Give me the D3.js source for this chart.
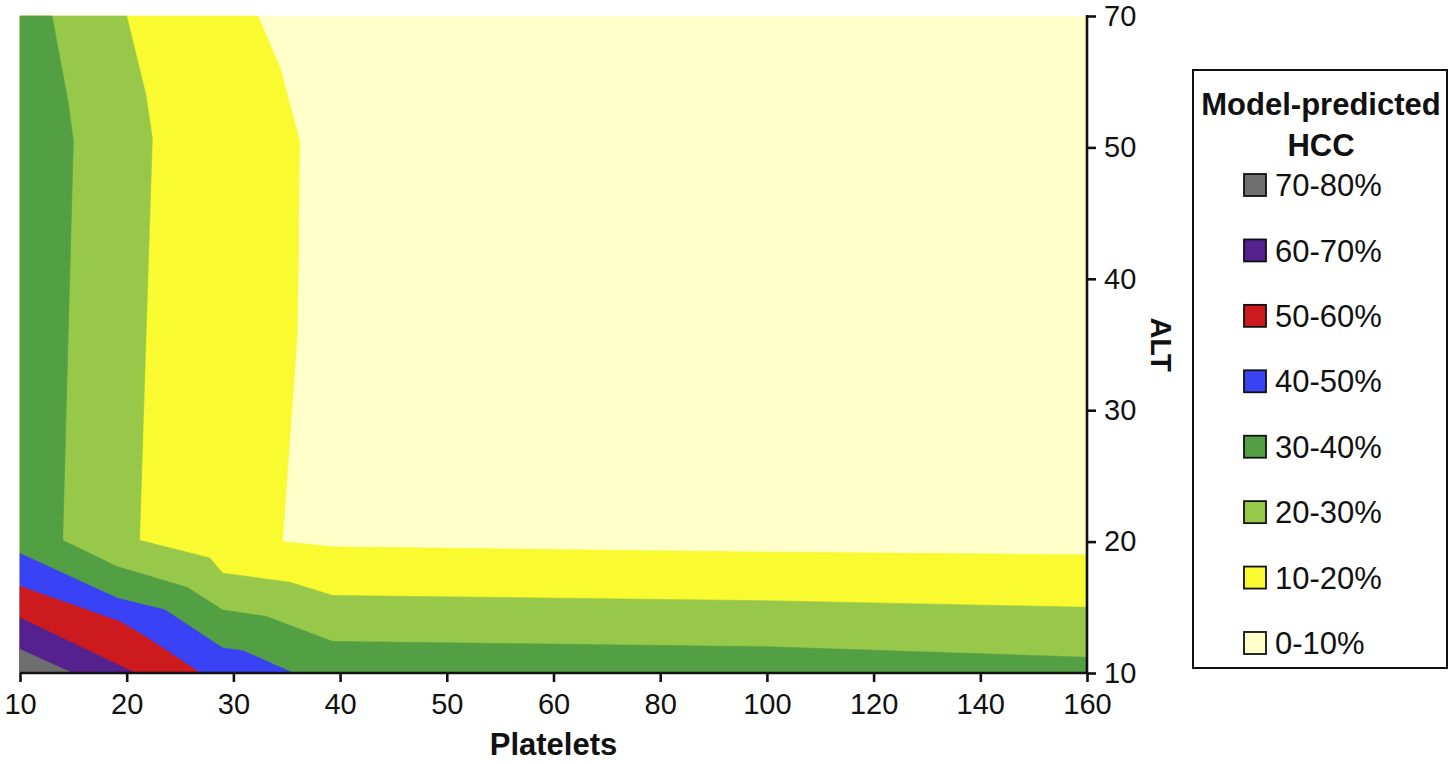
<!DOCTYPE html>
<html>
<head>
<meta charset="utf-8">
<script src="https://cdn.jsdelivr.net/npm/d3@7"></script>
<style>
  html, body { margin: 0; padding: 0; background: #fff; }
  svg { display: block; font-family: "Liberation Sans", Arial, Helvetica, sans-serif; }
</style>
</head>
<body>
<svg id="chart" width="1451" height="764"></svg>
<script>
// Contorno HCC predicho por el modelo: plaquetas (x) vs ALT (y).
// Los ejes son de grilla: cada tick queda a la misma distancia aunque el paso cambie.

const platelets = [10, 20, 30, 40, 50, 60, 80, 100, 120, 140, 160];
const alt = [10, 20, 30, 40, 50, 70];

const bandLabels = ['0-10%', '10-20%', '20-30%', '30-40%', '40-50%', '50-60%', '60-70%', '70-80%'];
const bandColors = ['#FFFFC9', '#F9FA2F', '#98C84A', '#53A044', '#3A42F5', '#CC1A1E', '#55218F', '#6E6E6E'];

// isolíneas [plaquetas, ALT], una por umbral (10%, 20%, ... 70%)
const iso10 = [[32.3, 70], [34.4, 62], [36.2, 51], [36.0, 36], [34.6, 20], [39.3, 19.6], [100, 19.2], [160, 19.0]];
const iso20 = [[20.0, 70], [21.8, 58], [22.4, 51.4], [21.2, 20.1], [27.8, 18.75], [29.0, 17.6], [35.3, 16.9], [39.3, 15.9], [100, 15.5], [160, 15.0]];
const iso30 = [[13.0, 70], [14.5, 57], [15.0, 51], [14.0, 20.1], [19.1, 18.1], [25.7, 16.5], [29.0, 14.8], [33.1, 14.3], [39.3, 12.4], [100, 12.0], [160, 11.2]];
const iso40 = [[10, 19.1], [19.1, 15.7], [23.6, 14.8], [29.0, 11.9], [30.9, 11.7], [35.6, 10]];
const iso50 = [[10, 16.6], [19.4, 13.9], [21.9, 12.7], [26.9, 10]];
const iso60 = [[10, 14.2], [20.8, 10]];
const iso70 = [[10, 11.8], [14.9, 10]];
const isolines = [iso10, iso20, iso30, iso40, iso50, iso60, iso70];

const svg = d3.select('#chart');
const L = 20, R = 1087, T = 16, B = 673;

const x = d3.scaleLinear()
  .domain(platelets)
  .range(platelets.map((_, i) => L + i * (R - L) / (platelets.length - 1)));
const y = d3.scaleLinear()
  .domain(alt)
  .range(alt.map((_, i) => B - i * (B - T) / (alt.length - 1)));

const xMin = platelets[0], xMax = platelets[platelets.length - 1];
const yMin = alt[0], yMax = alt[alt.length - 1];

// región >= umbral: la isolínea cerrada hacia la esquina inferior izquierda
function region(iso) {
  const pts = iso.slice();
  const first = pts[0], last = pts[pts.length - 1];
  if (last[0] === xMax) pts.push([xMax, yMin]);
  pts.push([xMin, yMin]);
  if (first[1] === yMax) pts.push([xMin, yMax]);
  return pts;
}

const line = d3.line().x(d => x(d[0])).y(d => y(d[1]));

const plot = svg.append('g');
plot.append('rect')
  .attr('x', x(xMin)).attr('y', y(yMax))
  .attr('width', x(xMax) - x(xMin)).attr('height', y(yMin) - y(yMax))
  .attr('fill', bandColors[0]);

plot.selectAll('path.band').data(isolines).join('path')
  .attr('class', 'band')
  .attr('d', d => line(region(d)) + 'Z')
  .attr('fill', (d, i) => bandColors[i + 1])
  .attr('stroke', (d, i) => bandColors[i + 1])
  .attr('stroke-width', 0.6)
  .attr('stroke-linejoin', 'round');

// ejes
const gx = svg.append('g').attr('transform', `translate(0,${B})`)
  .call(d3.axisBottom(x).tickValues(platelets).tickFormat(d3.format('d'))
    .tickSize(9).tickSizeOuter(0).tickPadding(11));
const gy = svg.append('g').attr('transform', `translate(${R},0)`)
  .call(d3.axisRight(y).tickValues(alt).tickFormat(d3.format('d'))
    .tickSize(9).tickSizeOuter(0).tickPadding(8));

[gx, gy].forEach(g => {
  g.select('.domain').attr('stroke', '#111').attr('stroke-width', 2.6);
  g.selectAll('.tick line').attr('stroke', '#111').attr('stroke-width', 2.6);
  g.selectAll('.tick text').attr('fill', '#111')
    .style('font-size', '29px').attr('font-family', '"Liberation Sans", Arial, sans-serif');
});
gy.select('.domain').attr('d', `M0,${T - 1}V${B + 1}`);
gx.select('.domain').attr('d', `M${L},0H${R + 1}`);

svg.append('text')
  .attr('x', (L + R) / 2).attr('y', 755)
  .attr('text-anchor', 'middle').attr('font-weight', 700)
  .style('font-size', '31px').attr('fill', '#111')
  .text('Platelets');

svg.append('text')
  .attr('transform', `translate(1151,${(T + B) / 2}) rotate(90)`)
  .attr('text-anchor', 'middle').attr('font-weight', 700)
  .style('font-size', '29px').attr('fill', '#111')
  .text('ALT');

// leyenda
const lg = svg.append('g').attr('transform', 'translate(1193,70)');
lg.append('rect').attr('width', 254).attr('height', 598)
  .attr('fill', '#fff').attr('stroke', '#111').attr('stroke-width', 2);
lg.append('text').attr('x', 128).attr('y', 45)
  .attr('text-anchor', 'middle').attr('font-weight', 700)
  .style('font-size', '31px').attr('fill', '#111').text('Model-predicted');
lg.append('text').attr('x', 128).attr('y', 86)
  .attr('text-anchor', 'middle').attr('font-weight', 700)
  .style('font-size', '31px').attr('fill', '#111').text('HCC');

const legendItems = d3.range(bandLabels.length).reverse();
const ly = d3.scalePoint().domain(legendItems).range([115, 573]);
const item = lg.selectAll('g.item').data(legendItems).join('g')
  .attr('class', 'item')
  .attr('transform', d => `translate(0,${ly(d)})`);
item.append('rect')
  .attr('x', 51).attr('y', -11).attr('width', 22).attr('height', 22)
  .attr('fill', d => bandColors[d]).attr('stroke', '#111').attr('stroke-width', 1.8);
item.append('text')
  .attr('x', 82).attr('dy', '0.36em')
  .style('font-size', '31px').attr('fill', '#111')
  .text(d => bandLabels[d]);
</script>
</body>
</html>
